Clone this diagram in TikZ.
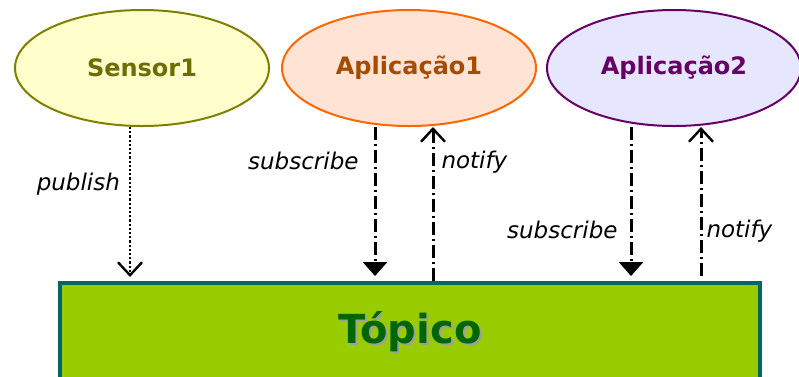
\documentclass[tikz,border=0pt]{standalone}
\usepackage{fontspec}
\setmainfont{DejaVu Sans}
\usetikzlibrary{arrows.meta,shapes.geometric}
\definecolor{sensorfill}{RGB}{255,255,204}
\definecolor{sensorline}{RGB}{128,128,0}
\definecolor{sensortext}{RGB}{110,110,0}
\definecolor{appAfill}{RGB}{255,228,214}
\definecolor{appAline}{RGB}{255,102,0}
\definecolor{appAtext}{RGB}{166,76,0}
\definecolor{appBfill}{RGB}{230,230,255}
\definecolor{appBline}{RGB}{102,0,102}
\definecolor{appBtext}{RGB}{102,0,102}
\definecolor{topicfill}{RGB}{153,204,0}
\definecolor{topicline}{RGB}{0,102,102}
\definecolor{topictext}{RGB}{0,102,0}
\tikzset{
  actor/.style={ellipse, draw, line width=2pt, minimum width=254pt, minimum height=116pt,
    font=\fontsize{24}{28}\selectfont\bfseries},
  flowlabel/.style={inner sep=0pt, font=\fontsize{23}{27}\selectfont\itshape},
  publine/.style={dotted, line width=2.2pt, -{Straight Barb[length=13pt,width=24pt,line width=2.4pt]}},
  subline/.style={line width=3pt, dash pattern=on 13pt off 4pt on 2pt off 4pt, -{Triangle[length=14pt,width=24pt]}},
  notline/.style={line width=3pt, dash pattern=on 13pt off 4pt on 2pt off 4pt, -{Straight Barb[length=13pt,width=24pt,line width=2.4pt]}}
}
\begin{document}
\begin{tikzpicture}[x=1pt,y=-1pt]
\useasboundingbox (0,0) rectangle (799,376);
\clip (0,0) rectangle (799,376);
% actors
\node[actor, fill=sensorfill, draw=sensorline, text=sensortext] (sensor) at (142,68) {Sensor1};
\node[actor, fill=appAfill, draw=appAline, text=appAtext] (appA) at (409,68) {Aplicação1};
\node[actor, fill=appBfill, draw=appBline, text=appBtext] (appB) at (674,68) {Aplicação2};
% topic box
\node[rectangle, draw=topicline, fill=topicfill, line width=4pt, minimum width=700pt, minimum height=100pt,
  text=topictext, font=\fontsize{40}{46}\selectfont\bfseries] (topico) at (410,333)
  {\makebox[0pt][l]{\hspace{2pt}\raisebox{-2pt}{\color{gray!75}Tópico}}Tópico};
% flows
\draw[publine] ([xshift=-12pt]sensor.south) -- ([xshift=-12pt,yshift=4pt]sensor.south |- topico.north)
  node[flowlabel, pos=0.38, anchor=east, xshift=-9pt] (publab) {publish};
\draw[subline] ([xshift=-34pt]appA.south) -- ([xshift=-34pt,yshift=5pt]appA.south |- topico.north)
  node[flowlabel, pos=0.23, anchor=east, xshift=-15pt] (subAlab) {subscribe};
\draw[notline] ([xshift=24pt]appA.south |- topico.north) -- ([xshift=24pt]appA.south)
  node[flowlabel, pos=0.77, anchor=west, xshift=7pt] (notAlab) {notify};
\draw[subline] ([xshift=-43pt]appB.south) -- ([xshift=-43pt,yshift=5pt]appB.south |- topico.north)
  node[flowlabel, pos=0.69, anchor=east, xshift=-12pt] (subBlab) {subscribe};
\draw[notline] ([xshift=27pt,yshift=5pt]appB.south |- topico.north) -- ([xshift=27pt]appB.south)
  node[flowlabel, pos=0.30, anchor=west, xshift=4pt] (notBlab) {notify};
\end{tikzpicture}
\end{document}
